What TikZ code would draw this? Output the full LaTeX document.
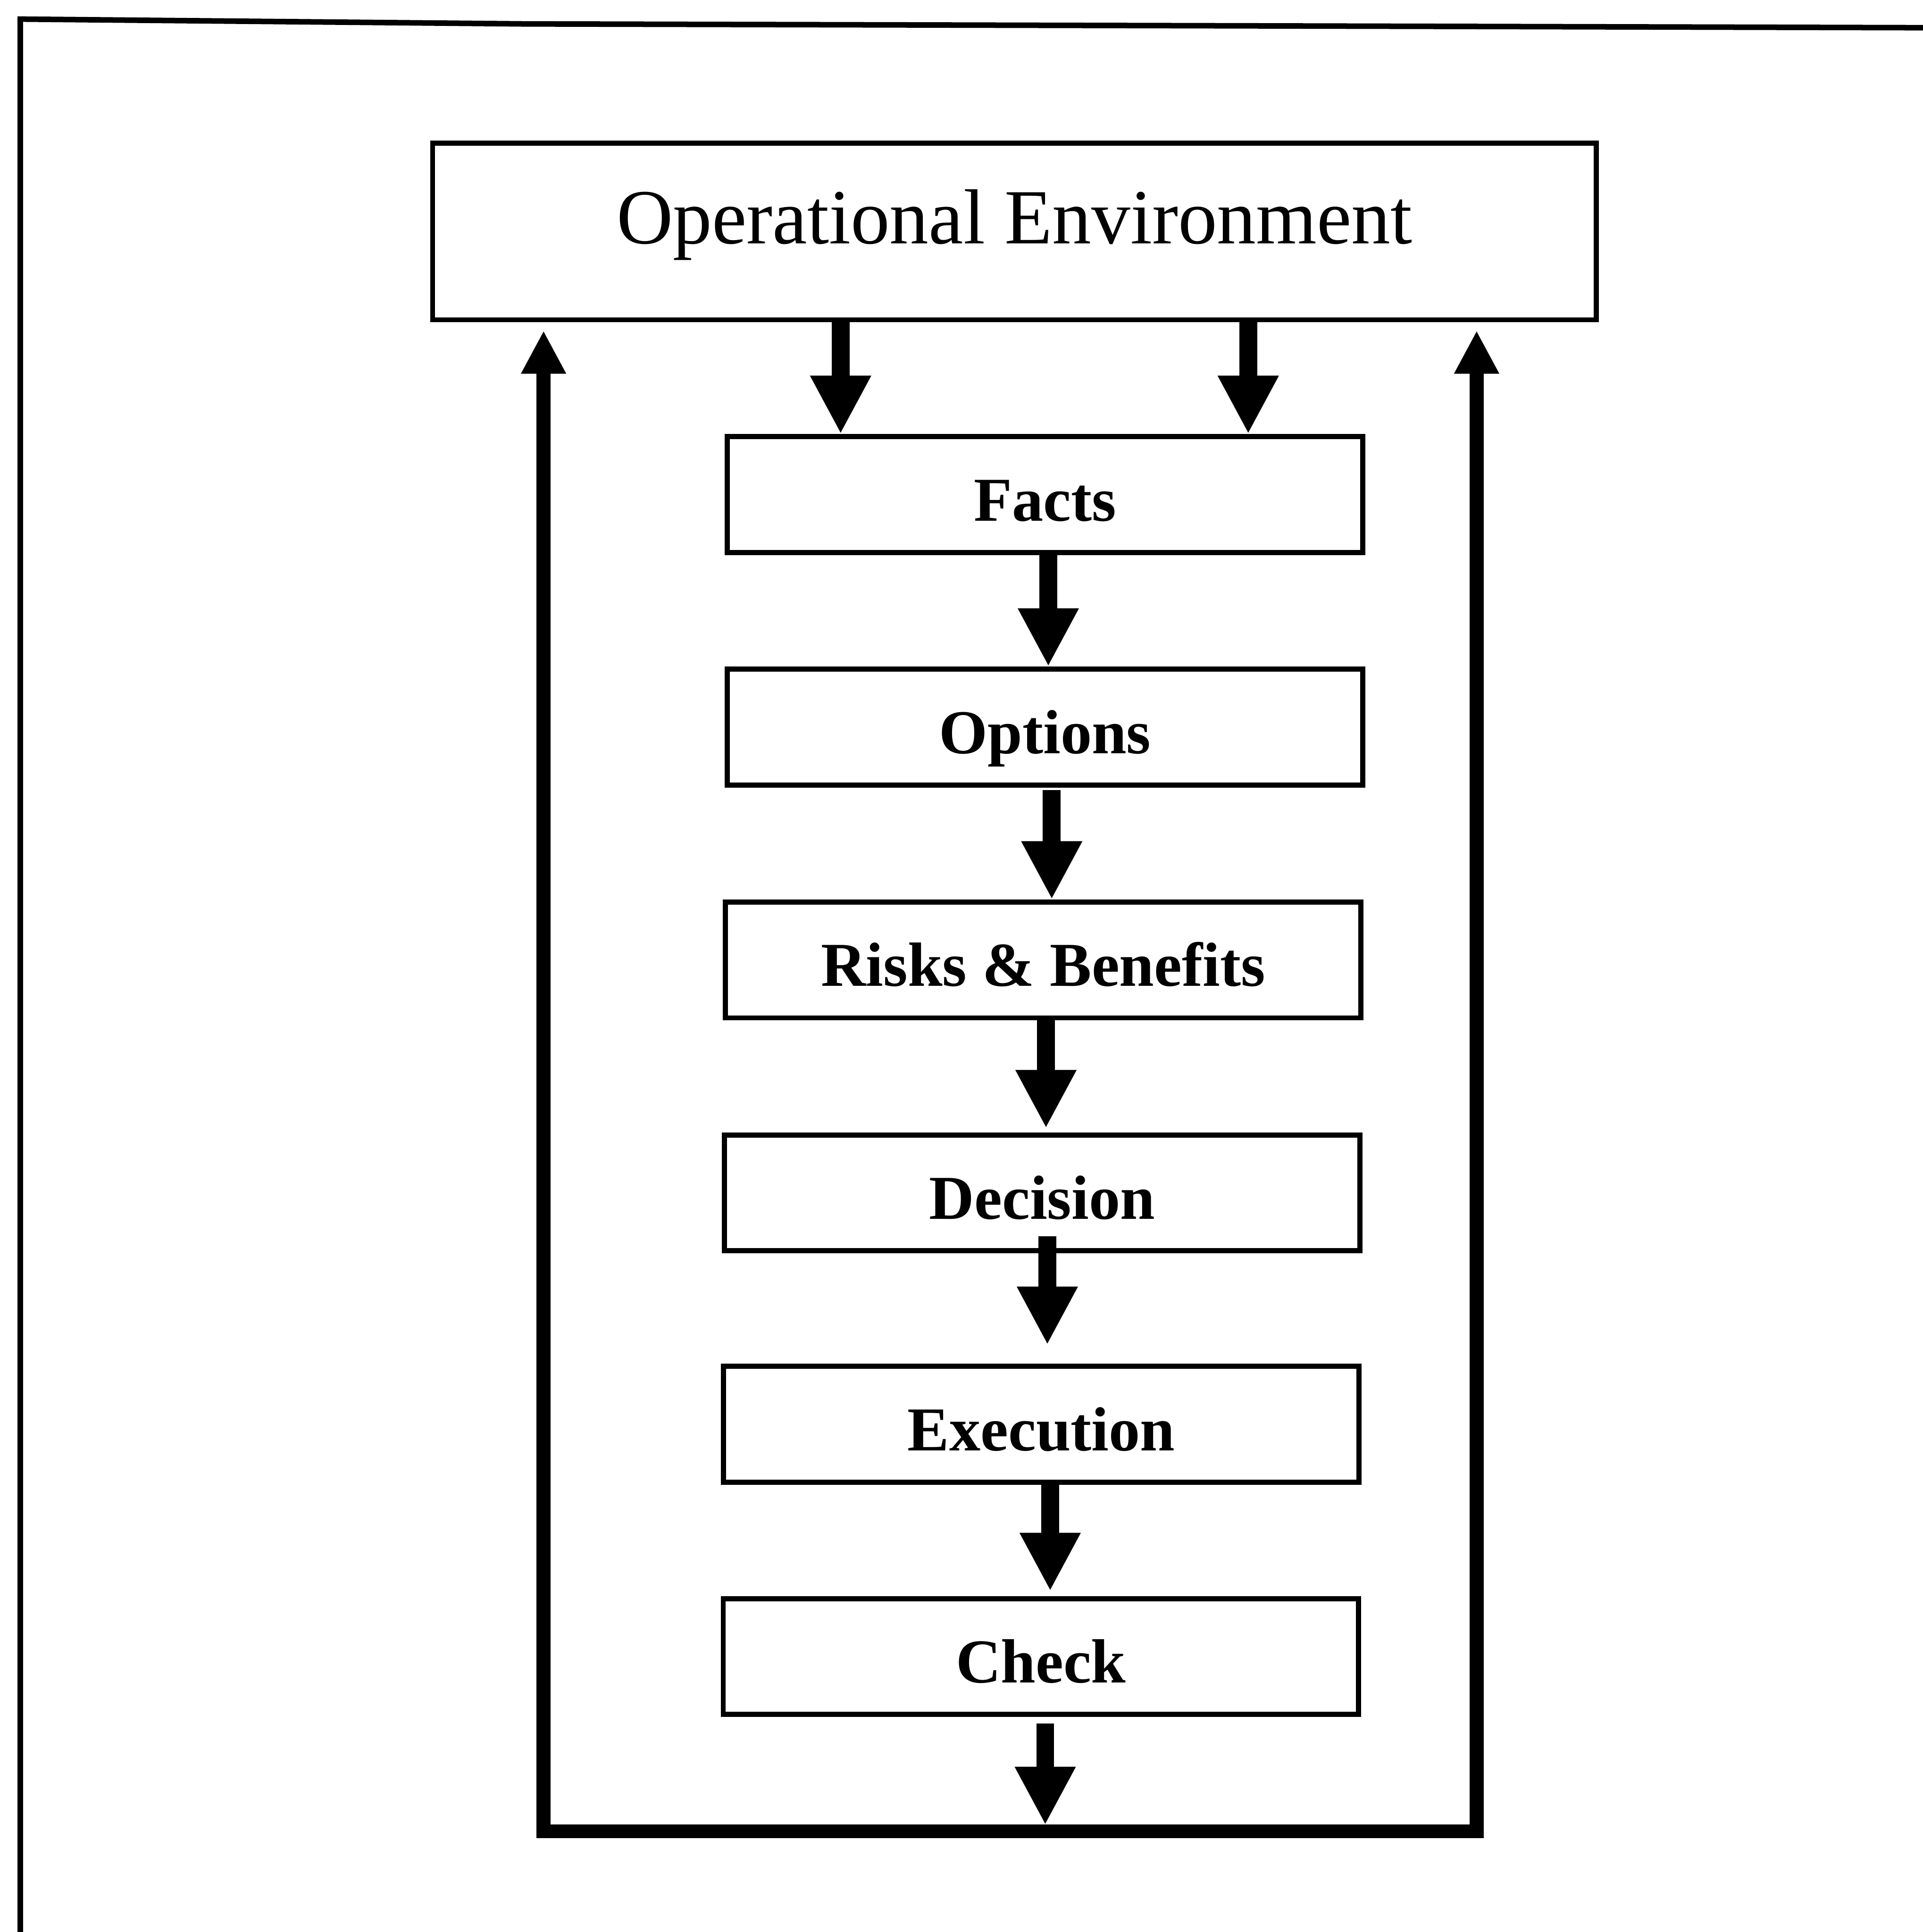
\documentclass[tikz,border=0pt]{standalone}
\usepackage{fontspec}
\setmainfont{Liberation Serif}
\usetikzlibrary{arrows.meta}
\begin{document}
\begin{tikzpicture}[x=0.3pt,y=-0.3pt,
  frame/.style={line width=1.35pt, line join=miter},
  envbox/.style={draw, line width=1.25pt, rectangle, inner sep=0pt,
    minimum width=283.2pt, minimum height=43.05pt,
    font=\fontsize{19pt}{22pt}\selectfont, text height=5.94pt, text depth=0pt},
  stepbox/.style={draw, line width=1.25pt, rectangle, inner sep=0pt,
    minimum width=154.65pt, minimum height=28.2pt,
    font=\fontsize{15.2pt}{18pt}\selectfont\bfseries, text height=12.8pt, text depth=0pt},
  flow/.style={line width=4.35pt, -{Triangle[width=13.8pt,length=14.2pt]}},
  loopback/.style={line width=3.4pt, line join=miter,
    {Triangle[width=10.2pt,length=10.5pt]}-{Triangle[width=10.2pt,length=10.5pt]}},
]
\useasboundingbox (0,0) rectangle (1560,1567.8);

% page frame (left and top rules)
\draw[frame] (16.5,1575) -- (16.5,15.5) -- (426,19.4) -- (1171,21.4) -- (1570,22.5);

% boxes
\node[envbox]  (env)       at (823,187.75)    {Operational Environment};
\node[stepbox] (facts)     at (847.8,401.25)  {Facts};
\node[stepbox] (options)   at (847.8,590)     {Options};
\node[stepbox] (risks)     at (846.3,779)     {Risks \& Benefits};
\node[stepbox] (decision)  at (845.5,968)     {Decision};
\node[stepbox] (execution) at (844.8,1155.75) {Execution};
\node[stepbox] (check)     at (844.5,1344.25) {Check};

% arrow columns
\coordinate (e1) at (682,0);
\coordinate (e2) at (1012.7,0);
\coordinate (f1) at (850.5,0);
\coordinate (f2) at (853.3,0);
\coordinate (f3) at (848.6,0);
\coordinate (f4) at (849.7,0);
\coordinate (f5) at (852,0);
\coordinate (f6) at (848,0);

% feedback loop corners
\coordinate (loopL) at (441,1486);
\coordinate (loopR) at (1198,1486);

% downward flow
\draw[flow] (env.south -| e1) -- (facts.north -| e1);
\draw[flow] (env.south -| e2) -- (facts.north -| e2);
\draw[flow] (facts.south -| f1) -- (options.north -| f1);
\draw[flow, shorten <=0.6pt] (options.south -| f2) -- (risks.north -| f2);
\draw[flow, shorten >=1pt] (risks.south -| f3) -- (decision.north -| f3);
\draw[flow, shorten <=-4.2pt, shorten >=4.6pt] (decision.south -| f4) -- (execution.north -| f4);
\draw[flow, shorten >=1.2pt] (execution.south -| f5) -- (check.north -| f5);
\draw[flow, shorten <=1.6pt, shorten >=1.5pt] (check.south -| f6) -- (loopL -| f6);

% feedback to the operational environment
\draw[loopback, shorten <=2pt, shorten >=2pt]
  (env.south -| loopL) -- (loopL) -- (loopR) -- (env.south -| loopR);
\end{tikzpicture}
\end{document}
